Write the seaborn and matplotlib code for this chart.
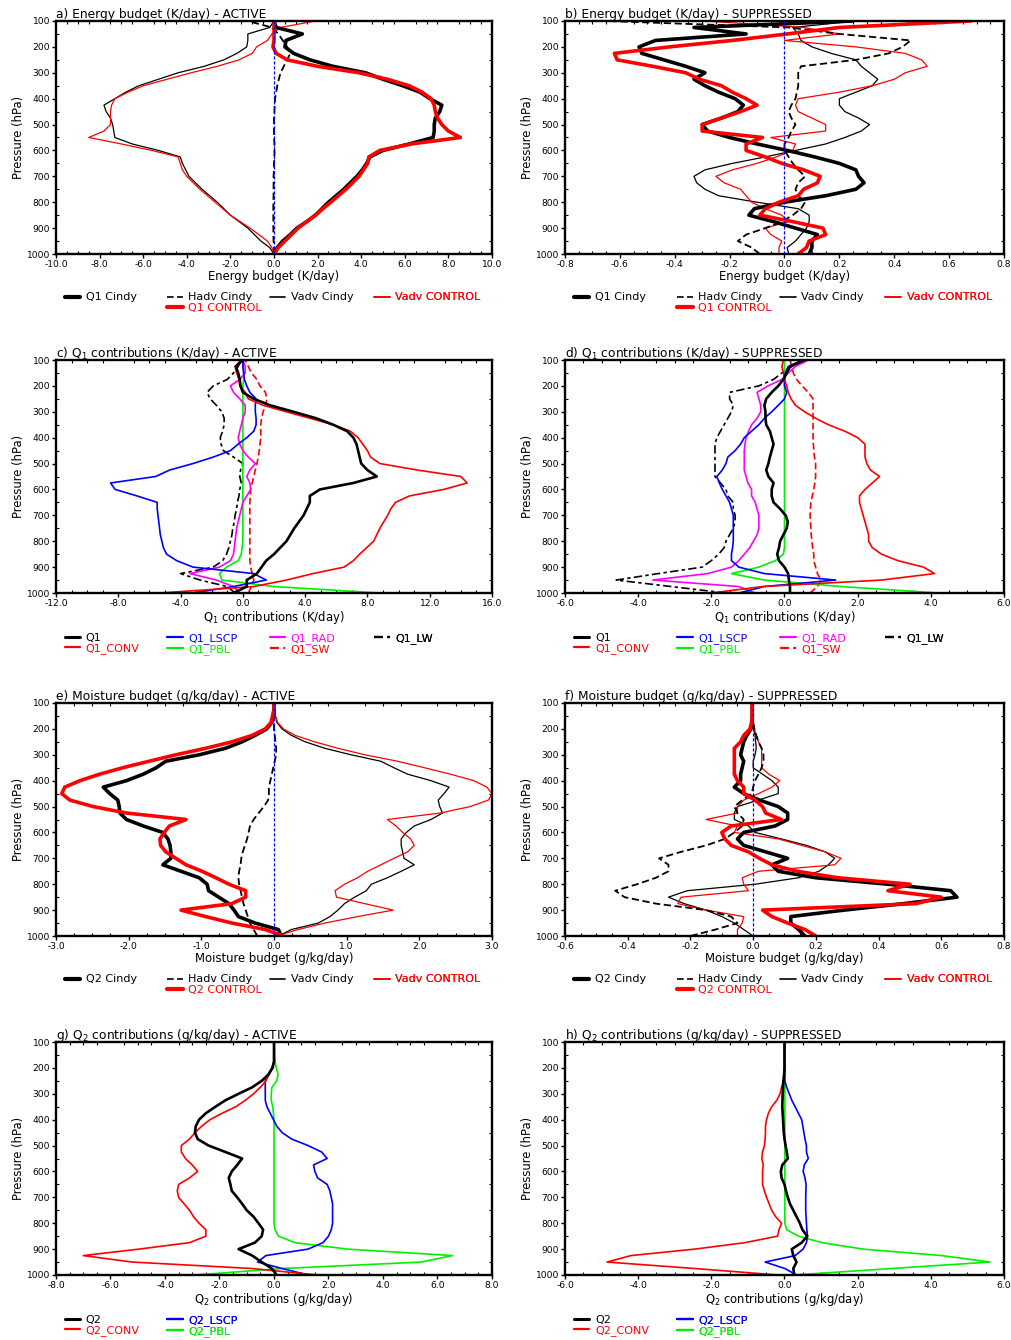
import numpy as np
import matplotlib
matplotlib.use("Agg")
import matplotlib.pyplot as plt
import seaborn as sns
from matplotlib.lines import Line2D
from matplotlib.ticker import MultipleLocator, AutoMinorLocator, FormatStrFormatter

sns.set_theme(style="ticks")
plt.rcParams["font.family"] = ["DejaVu Sans"]
plt.rcParams.update({"text.color": "black", "axes.labelcolor": "black",
                     "xtick.color": "black", "ytick.color": "black"})

# Pressure levels (hPa), surface to top
PRES = np.arange(1000, 99, -25)

# ---- a) Energy budget, ACTIVE (K/day)
q1_cindy_a = [0.0, 0.15, 0.4, 0.75, 1.05, 1.5, 1.9, 2.2, 2.5, 2.85,
              3.2, 3.5, 3.8, 4.05, 4.25, 4.4, 5.0, 6.2, 7.3, 7.35,
              7.35, 7.4, 7.6, 7.7, 7.15, 6.7, 5.9, 5.0, 4.2, 2.7,
              1.65, 0.9, 0.5, 0.55, 1.3, 0.1, 0.0]
q1_control_a = [0.0, 0.2, 0.5, 0.8, 1.1, 1.5, 1.9, 2.25, 2.6, 2.95,
                3.3, 3.6, 3.9, 4.1, 4.3, 4.35, 4.85, 6.3, 8.55, 8.0,
                7.7, 7.5, 7.4, 7.35, 7.2, 6.8, 6.2, 5.2, 3.9, 2.0,
                0.6, 0.1, -0.05, 0.0, 0.0, 0.0, 0.0]
vadv_cindy_a = [0.0, -0.2, -0.6, -0.9, -1.2, -1.6, -2.0, -2.3, -2.6, -2.95,
                -3.3, -3.6, -3.9, -4.05, -4.2, -4.3, -5.3, -6.5, -7.3, -7.35,
                -7.4, -7.5, -7.7, -7.8, -7.3, -6.8, -6.2, -5.3, -4.4, -3.2,
                -2.3, -1.7, -1.25, -1.2, -1.2, -0.2, 0.0]
vadv_control_a = [0.0, -0.1, -0.3, -0.7, -1.1, -1.55, -2.0, -2.35, -2.7, -3.05,
                  -3.4, -3.7, -4.0, -4.2, -4.3, -4.4, -5.6, -7.0, -8.5, -7.8,
                  -7.5, -7.5, -7.5, -7.45, -7.3, -6.7, -6.0, -4.9, -3.8, -2.6,
                  -1.6, -1.0, -0.8, -0.3, -0.1, 0.3, 1.9]
hadv_cindy_a = [0.0, 0.0, -0.02, -0.03, -0.03, -0.03, -0.03, -0.03, -0.03, -0.02,
                -0.02, -0.02, -0.02, 0.0, 0.0, 0.02, 0.02, 0.02, 0.0, 0.0,
                0.0, 0.0, 0.02, 0.03, 0.05, 0.1, 0.15, 0.22, 0.3, 0.45,
                0.6, 0.75, 0.6, 0.4, 0.2, -0.1, -1.2]

# ---- b) Energy budget, SUPPRESSED (K/day)
q1_cindy_b = [0.09, 0.1, 0.1, 0.12, 0.04, -0.04, -0.13, -0.11, 0.0, 0.15,
              0.26, 0.29, 0.27, 0.26, 0.2, 0.11, 0.01, -0.1, -0.2, -0.28,
              -0.3, -0.23, -0.17, -0.15, -0.18, -0.24, -0.29, -0.33, -0.29, -0.36,
              -0.44, -0.52, -0.53, -0.47, -0.14, -0.33, 0.25]
q1_control_b = [0.05, 0.08, 0.09, 0.15, 0.14, 0.03, -0.09, -0.07, -0.02, 0.05,
                0.07, 0.12, 0.13, 0.07, -0.01, -0.07, -0.14, -0.14, -0.08, -0.3,
                -0.3, -0.23, -0.16, -0.1, -0.14, -0.19, -0.23, -0.31, -0.36, -0.48,
                -0.61, -0.62, -0.42, -0.19, 0.01, 0.2, 0.68]
vadv_cindy_b = [0.015, 0.01, 0.04, 0.06, 0.08, 0.09, 0.09, 0.05, -0.1, -0.24,
                -0.29, -0.32, -0.33, -0.29, -0.19, -0.07, 0.04, 0.15, 0.22, 0.28,
                0.31, 0.27, 0.22, 0.2, 0.2, 0.26, 0.32, 0.34, 0.31, 0.28,
                0.26, 0.17, 0.1, 0.06, 0.05, 0.03, 0.26]
vadv_control_b = [-0.02, -0.02, -0.01, -0.05, -0.07, 0.015, -0.01, -0.07, -0.12, -0.14,
                  -0.16, -0.22, -0.25, -0.19, -0.1, -0.03, 0.03, 0.04, -0.05, 0.15,
                  0.15, 0.1, 0.05, 0.04, 0.05, 0.2, 0.32, 0.4, 0.44, 0.52,
                  0.5, 0.44, 0.26, 0.0, 0.2, 0.07, -0.29]
hadv_cindy_b = [-0.09, -0.12, -0.17, -0.14, -0.07, -0.01, 0.03, 0.06, 0.075, 0.05,
                0.04, 0.05, 0.075, 0.05, 0.03, 0.015, 0.0, 0.0, 0.015, 0.025,
                0.04, 0.025, 0.015, 0.025, 0.04, 0.045, 0.05, 0.05, 0.05, 0.06,
                0.26, 0.38, 0.43, 0.46, 0.2, 0.015, -0.65]

# ---- c) Q1 contributions, ACTIVE (K/day)
q1_c = [-0.6, 0.25, 0.25, 0.9, 1.2, 1.5, 2.0, 2.4, 2.8, 3.05,
        3.3, 3.6, 3.9, 4.1, 4.3, 4.3, 4.95, 7.1, 8.6, 8.0,
        7.6, 7.5, 7.4, 7.3, 7.1, 6.7, 5.8, 4.7, 3.25, 1.75,
        0.7, 0.0, -0.15, -0.2, -0.3, -0.45, 0.0]
q1_conv_c = [-5.3, 0.7, 2.8, 4.5, 6.5, 7.1, 7.5, 7.95, 8.4, 8.6,
             8.8, 9.05, 9.3, 9.5, 9.8, 10.7, 12.9, 14.4, 14.0, 11.2,
             8.8, 8.2, 8.0, 7.7, 7.4, 6.9, 5.8, 4.3, 2.8, 1.3,
             0.35, 0.15, -0.2, -0.25, -0.4, -0.5, -0.1]
q1_lscp_c = [-3.2, -0.6, 1.5, 0.7, -3.2, -4.25, -4.9, -5.1, -5.2, -5.3,
             -5.35, -5.4, -5.45, -5.5, -5.5, -6.8, -8.2, -8.5, -5.6, -4.7,
             -3.2, -1.9, -0.8, -0.3, 0.25, 0.7, 0.85, 0.85, 0.8, 0.8,
             0.85, 0.45, 0.25, 0.1, 0.05, 0.0, 0.0]
q1_rad_c = [-0.2, -0.6, -1.7, -3.4, -1.5, -0.8, -0.6, -0.55, -0.5, -0.45,
            -0.4, -0.3, -0.2, -0.1, 0.0, 0.25, 0.5, 0.45, 0.25, 0.45,
            0.8, 0.35, 0.0, -0.2, -0.3, -0.2, -0.1, 0.0, 0.15, 0.15,
            -0.2, -0.6, -0.8, -0.2, 0.15, 0.15, 0.0]
q1_pbl_c = [8.8, 2.0, -1.35, -1.5, -1.05, -0.3, -0.1, -0.05, 0.0, 0.0,
            0.0, 0.0, 0.0, 0.0, 0.0, 0.0, 0.0, 0.0, 0.0, 0.0,
            0.0, 0.0, 0.0, 0.0, 0.0, 0.0, 0.0, 0.0, 0.0, 0.0,
            0.0, 0.0, 0.0, 0.05, 0.05, 0.05, 0.05]
q1_sw_c = [0.35, 0.55, 0.7, 0.6, 0.5, 0.45, 0.45, 0.45, 0.45, 0.45,
           0.45, 0.45, 0.45, 0.45, 0.45, 0.48, 0.5, 0.6, 0.7, 0.8,
           0.9, 1.0, 1.05, 1.1, 1.15, 1.15, 1.15, 1.2, 1.3, 1.45,
           1.55, 1.45, 1.1, 0.9, 0.55, 0.35, 0.15]
q1_lw_c = [-0.5, -1.0, -2.75, -4.0, -1.9, -1.3, -1.05, -0.9, -0.8, -0.7,
           -0.65, -0.55, -0.5, -0.4, -0.35, -0.25, -0.2, -0.1, -0.2, -0.15,
           0.0, -0.6, -1.25, -1.4, -1.45, -1.3, -1.2, -1.2, -1.35, -1.7,
           -2.1, -2.3, -1.9, -1.0, -0.6, -0.3, -0.1]

# ---- d) Q1 contributions, SUPPRESSED (K/day)
q1_d = [0.15, 0.15, 0.12, 0.1, 0.0, -0.15, -0.2, -0.15, -0.12, -0.03,
        0.06, 0.09, 0.03, -0.12, -0.3, -0.35, -0.35, -0.3, -0.44, -0.5,
        -0.44, -0.4, -0.35, -0.3, -0.35, -0.4, -0.5, -0.52, -0.52, -0.55,
        -0.5, -0.35, -0.17, -0.03, 0.06, 0.15, 0.55]
q1_conv_d = [-2.0, -0.6, 2.65, 4.1, 3.8, 3.1, 2.65, 2.4, 2.3, 2.3,
             2.25, 2.2, 2.15, 2.1, 2.05, 2.05, 2.2, 2.4, 2.6, 2.35,
             2.25, 2.2, 2.2, 2.2, 2.0, 1.65, 1.2, 0.85, 0.55, 0.3,
             0.18, 0.1, 0.06, 0.0, -0.03, -0.07, -0.03]
q1_lscp_d = [-1.25, -0.55, 1.4, -0.55, -1.25, -1.45, -1.45, -1.42, -1.4, -1.4,
             -1.4, -1.4, -1.4, -1.45, -1.5, -1.6, -1.7, -1.78, -1.85, -1.7,
             -1.6, -1.55, -1.35, -1.2, -1.1, -0.9, -0.7, -0.55, -0.35, -0.17,
             0.0, 0.06, 0.0, 0.0, 0.02, 0.1, 0.5]
q1_rad_d = [-0.8, -1.25, -3.6, -2.1, -1.45, -1.25, -1.1, -0.95, -0.85, -0.75,
            -0.7, -0.7, -0.7, -0.75, -0.8, -0.9, -0.9, -1.0, -1.05, -1.1,
            -1.1, -1.1, -1.1, -1.08, -1.05, -0.98, -0.9, -0.75, -0.65, -0.65,
            -0.7, -0.75, -0.45, -0.07, 0.1, 0.3, 0.65]
q1_pbl_d = [4.2, 1.55, -0.55, -1.45, -0.7, -0.25, -0.03, 0.0, 0.0, 0.0,
            0.0, 0.0, 0.0, 0.0, 0.0, 0.0, 0.0, 0.0, 0.0, 0.0,
            0.0, 0.0, 0.0, 0.0, 0.0, 0.0, 0.0, 0.0, 0.0, 0.0,
            0.0, 0.0, 0.0, 0.0, 0.0, 0.0, 0.0]
q1_sw_d = [0.7, 0.9, 1.0, 0.9, 0.85, 0.8, 0.8, 0.77, 0.75, 0.73,
           0.72, 0.71, 0.7, 0.71, 0.72, 0.76, 0.8, 0.83, 0.85, 0.85,
           0.85, 0.82, 0.8, 0.79, 0.78, 0.78, 0.78, 0.78, 0.78, 0.78,
           0.78, 0.65, 0.48, 0.33, 0.24, 0.2, 0.15]
q1_lw_d = [-1.6, -3.1, -4.6, -3.45, -2.25, -2.0, -1.8, -1.65, -1.6, -1.5,
           -1.4, -1.35, -1.35, -1.4, -1.4, -1.55, -1.6, -1.75, -1.9, -1.9,
           -1.9, -1.9, -1.9, -1.9, -1.85, -1.75, -1.65, -1.55, -1.45, -1.4,
           -1.5, -1.5, -0.7, -0.3, -0.07, 0.2, 0.55]

# ---- e) Moisture budget, ACTIVE (g/kg/day)
q2_cindy_e = [0.1, 0.06, -0.26, -0.49, -0.55, -0.62, -0.76, -0.9, -0.92, -1.03,
              -1.28, -1.53, -1.42, -1.42, -1.43, -1.46, -1.53, -1.8, -2.03, -2.12,
              -2.13, -2.15, -2.26, -2.35, -2.03, -1.8, -1.62, -1.49, -1.03, -0.67,
              -0.44, -0.26, -0.1, -0.03, -0.01, 0.0, 0.0]
q2_control_e = [0.13, -0.12, -0.58, -0.94, -1.28, -0.58, -0.39, -0.39, -0.62, -0.8,
                -0.99, -1.21, -1.35, -1.49, -1.56, -1.57, -1.51, -1.44, -1.21, -2.03,
                -2.49, -2.81, -2.92, -2.88, -2.67, -2.4, -2.08, -1.72, -1.35, -0.94,
                -0.58, -0.3, -0.12, -0.04, -0.02, 0.0, 0.0]
vadv_cindy_e = [0.06, 0.24, 0.61, 0.77, 0.88, 0.97, 1.11, 1.27, 1.34, 1.56,
                1.75, 1.93, 1.79, 1.77, 1.75, 1.75, 1.82, 1.93, 2.16, 2.32,
                2.28, 2.26, 2.34, 2.41, 2.16, 1.84, 1.65, 1.47, 1.06, 0.7,
                0.43, 0.24, 0.11, 0.04, 0.02, 0.01, 0.0]
vadv_control_e = [0.04, 0.33, 0.7, 1.15, 1.64, 1.25, 0.86, 0.84, 0.97, 1.15,
                  1.29, 1.47, 1.65, 1.84, 1.93, 1.88, 1.77, 1.68, 1.56, 2.29,
                  2.7, 2.95, 3.0, 2.93, 2.75, 2.43, 2.07, 1.7, 1.25, 0.88,
                  0.56, 0.29, 0.13, 0.05, 0.02, 0.01, 0.0]
hadv_cindy_e = [-0.23, -0.28, -0.33, -0.36, -0.39, -0.42, -0.44, -0.46, -0.48, -0.49,
                -0.48, -0.46, -0.45, -0.43, -0.4, -0.37, -0.35, -0.33, -0.28, -0.21,
                -0.14, -0.08, -0.07, -0.07, -0.05, -0.03, -0.01, 0.01, 0.03, 0.03,
                0.02, 0.01, 0.0, 0.0, 0.0, 0.0, 0.0]

# ---- f) Moisture budget, SUPPRESSED (g/kg/day)
q2_cindy_f = [0.165, 0.145, 0.12, 0.12, 0.29, 0.48, 0.65, 0.63, 0.43, 0.2,
              0.08, 0.06, 0.11, 0.04, -0.03, -0.05, -0.03, 0.07, 0.11, 0.11,
              0.08, 0.02, -0.03, -0.06, -0.04, -0.04, -0.035, -0.03, -0.04, -0.035,
              -0.03, -0.02, -0.007, -0.003, -0.003, -0.003, -0.003]
q2_control_f = [0.2, 0.165, 0.11, 0.06, 0.03, 0.52, 0.6, 0.43, 0.5, 0.27,
                0.14, 0.06, 0.02, -0.015, -0.07, -0.09, -0.1, -0.07, 0.09, 0.04,
                0.03, 0.006, -0.03, -0.03, -0.05, -0.06, -0.06, -0.06, -0.06, -0.06,
                -0.04, -0.03, -0.01, -0.005, -0.003, -0.003, -0.003]
vadv_cindy_f = [0.0, -0.03, -0.06, -0.1, -0.15, -0.22, -0.27, -0.21, 0.006, 0.145,
                0.21, 0.24, 0.26, 0.23, 0.17, 0.09, 0.006, -0.015, -0.06, -0.06,
                -0.05, 0.017, 0.08, 0.08, 0.06, 0.03, 0.0, 0.0, 0.006, 0.01,
                0.008, 0.006, 0.002, 0.0, 0.0, 0.0, 0.0]
vadv_control_f = [-0.05, -0.05, -0.035, -0.03, -0.15, -0.24, -0.23, -0.015, -0.03, -0.035,
                  0.017, 0.26, 0.28, 0.23, 0.155, 0.08, -0.06, -0.05, -0.15, -0.05,
                  -0.05, -0.03, 0.017, 0.06, 0.085, 0.05, 0.027, 0.027, 0.027, 0.027,
                  0.017, 0.01, 0.004, 0.0, 0.0, 0.0, 0.0]
hadv_cindy_f = [-0.2, -0.12, -0.05, -0.07, -0.15, -0.31, -0.41, -0.44, -0.37, -0.31,
                -0.27, -0.27, -0.3, -0.23, -0.15, -0.09, -0.06, -0.035, -0.03, -0.05,
                -0.06, -0.035, -0.005, 0.0, 0.006, 0.017, 0.027, 0.033, 0.033, 0.027,
                0.017, 0.01, 0.004, 0.0, 0.0, 0.0, 0.0]

# ---- g) Q2 contributions, ACTIVE (g/kg/day)
q2_g = [0.1, -0.08, -0.45, -0.8, -1.3, -0.7, -0.45, -0.4, -0.57, -0.75,
        -1.0, -1.17, -1.35, -1.55, -1.6, -1.66, -1.55, -1.35, -1.17, -1.78,
        -2.4, -2.8, -2.9, -2.87, -2.75, -2.5, -2.15, -1.78, -1.3, -0.8,
        -0.45, -0.2, -0.05, 0.0, 0.0, 0.0, 0.0]
q2_conv_g = [1.6, -0.8, -5.2, -7.0, -4.95, -3.1, -2.5, -2.5, -2.75, -2.95,
             -3.1, -3.3, -3.5, -3.55, -3.5, -3.1, -2.8, -3.0, -3.25, -3.4,
             -3.4, -3.1, -2.9, -2.65, -2.35, -1.9, -1.4, -1.05, -0.75, -0.5,
             -0.3, -0.18, -0.08, 0.0, 0.0, 0.0, 0.0]
q2_lscp_g = [1.25, 0.3, -0.6, -0.3, 1.25, 1.8, 2.0, 2.1, 2.15, 2.15,
             2.15, 2.15, 2.1, 2.05, 1.95, 1.6, 1.5, 1.45, 1.95, 1.75,
             1.25, 0.65, 0.3, 0.1, -0.02, -0.14, -0.26, -0.32, -0.32, -0.32,
             -0.32, -0.22, -0.08, 0.0, 0.0, 0.0, 0.0]
q2_pbl_g = [-2.9, 0.3, 5.4, 6.55, 2.7, 0.77, 0.16, 0.04, 0.0, 0.0,
            0.0, 0.0, 0.0, 0.0, 0.0, 0.0, 0.0, 0.0, 0.0, 0.0,
            0.0, 0.0, 0.0, 0.0, 0.0, -0.02, -0.05, -0.1, -0.1, -0.08,
            0.1, 0.15, 0.08, 0.04, 0.02, 0.02, 0.02]

# ---- h) Q2 contributions, SUPPRESSED (g/kg/day)
q2_h = [0.27, 0.24, 0.33, 0.24, 0.2, 0.47, 0.62, 0.49, 0.42, 0.33,
        0.24, 0.15, 0.09, 0.04, 0.0, -0.08, -0.1, -0.06, 0.09, 0.06,
        0.03, 0.0, -0.02, -0.03, -0.04, -0.05, -0.06, -0.055, -0.05, -0.04,
        -0.03, -0.01, 0.0, 0.0, 0.0, 0.0, 0.0]
q2_conv_h = [-0.17, -2.45, -4.85, -4.2, -2.45, -1.08, -0.19, -0.15, -0.08, -0.24,
             -0.35, -0.42, -0.49, -0.55, -0.6, -0.6, -0.6, -0.58, -0.62, -0.6,
             -0.55, -0.53, -0.52, -0.52, -0.49, -0.44, -0.35, -0.21, -0.12, -0.08,
             -0.03, -0.01, 0.0, 0.0, 0.0, 0.0, 0.0]
q2_lscp_h = [0.33, 0.01, -0.53, 0.29, 0.51, 0.6, 0.63, 0.61, 0.6, 0.59,
             0.58, 0.58, 0.58, 0.585, 0.59, 0.56, 0.51, 0.54, 0.65, 0.6,
             0.6, 0.56, 0.53, 0.5, 0.47, 0.38, 0.29, 0.2, 0.13, 0.06,
             0.01, 0.0, 0.0, 0.0, 0.0, 0.0, 0.0]
q2_pbl_h = [0.25, 2.93, 5.62, 4.3, 2.15, 1.02, 0.38, 0.06, 0.01, 0.01,
            0.01, 0.01, 0.01, 0.01, 0.01, 0.01, 0.01, 0.01, 0.01, 0.01,
            0.01, 0.01, 0.01, 0.01, 0.01, 0.01, 0.01, 0.01, 0.01, 0.01,
            0.01, 0.02, 0.02, 0.01, 0.01, 0.01, 0.01]

RED, BLUE, GREEN, MAG, BLK = "#ff0000", "#0000ff", "#00f000", "#ff00ff", "black"
DASH = (0, (4, 2))
DASHDOT = (0, (5, 2, 2, 2))
THICK, THIN, MID, MIDBOLD = 2.6, 0.9, 1.2, 1.9

fig = plt.figure(figsize=(10.12, 13.4), dpi=100)

LEFT_X, RIGHT_X = 56 / 1012, 565 / 1012
LEFT_W, RIGHT_W = 436 / 1012, 439 / 1012
ROW_BOTTOM = [1 - 254 / 1340, 1 - 593 / 1340, 1 - 936 / 1340, 1 - 1275 / 1340]
AX_H = 233 / 1340


def make_axes(row, col):
    if col == 0:
        return fig.add_axes([LEFT_X, ROW_BOTTOM[row], LEFT_W, AX_H])
    return fig.add_axes([RIGHT_X, ROW_BOTTOM[row], RIGHT_W, AX_H])


def profile(ax, values, color, lw, ls="-"):
    sns.lineplot(x=values, y=PRES, ax=ax, color=color, linewidth=lw,
                 linestyle=ls, orient="y", sort=False, estimator=None)


def style(ax, xlim, xmajor, title, xlabel):
    ax.set_xlim(*xlim)
    ax.set_ylim(1000, 100)
    ax.xaxis.set_major_locator(MultipleLocator(xmajor))
    ax.xaxis.set_minor_locator(AutoMinorLocator(4))
    ax.xaxis.set_major_formatter(FormatStrFormatter("%.1f"))
    ax.yaxis.set_major_locator(MultipleLocator(100))
    ax.yaxis.set_minor_locator(MultipleLocator(50))
    ax.tick_params(which="major", direction="out", length=3, width=1,
                   labelsize=6.6, pad=1.2, bottom=True, left=True,
                   top=False, right=False, colors="black")
    ax.tick_params(which="minor", direction="in", length=2.5, width=0.8,
                   bottom=True, left=True, top=True, right=True)
    for s in ax.spines.values():
        s.set_linewidth(1.7)
        s.set_color("black")
    ax.set_title(title, loc="left", fontsize=8.8, pad=2, color="black")
    ax.set_xlabel(xlabel, fontsize=8.4, labelpad=0.5)
    ax.set_ylabel("Pressure (hPa)", fontsize=8.4, labelpad=1)


def key(ax, columns, y=-0.165):
    xs = [0.02, 0.255, 0.49, 0.73]
    for x, col in zip(xs, columns):
        handles = [Line2D([], [], color=c, lw=w, ls=s, label=l) for (l, c, w, s) in col]
        leg = ax.legend(handles=handles, loc="upper left", bbox_to_anchor=(x, y),
                        frameon=False, fontsize=8, handlelength=1.4,
                        handletextpad=0.5, labelspacing=0.02, borderpad=0,
                        borderaxespad=0, labelcolor="linecolor")
        ax.add_artist(leg)


def budget_panel(ax, q_c, q_ctl, vadv_c, vadv_ctl, hadv_c, qname, xlim, xmajor, title, xlabel):
    profile(ax, vadv_c, BLK, THIN)
    profile(ax, vadv_ctl, RED, THIN)
    profile(ax, hadv_c, BLK, 1.3, DASH)
    profile(ax, q_c, BLK, THICK)
    profile(ax, q_ctl, RED, THICK)
    ax.axvline(0, color=BLUE, lw=0.9, ls=(0, (2.5, 1.5)), zorder=5)
    style(ax, xlim, xmajor, title, xlabel)
    key(ax, [[(f"{qname} Cindy", BLK, 3, "-")],
             [("Hadv Cindy", BLK, 1.2, DASH), (f"{qname} CONTROL", RED, 3, "-")],
             [("Vadv Cindy", BLK, 1.2, "-")],
             [("Vadv CONTROL", RED, 1.2, "-")]])


# Row 1: energy budgets
ax = make_axes(0, 0)
budget_panel(ax, q1_cindy_a, q1_control_a, vadv_cindy_a, vadv_control_a, hadv_cindy_a,
             "Q1", (-10, 10), 2, "a) Energy budget (K/day) - ACTIVE", "Energy budget (K/day)")
ax = make_axes(0, 1)
budget_panel(ax, q1_cindy_b, q1_control_b, vadv_cindy_b, vadv_control_b, hadv_cindy_b,
             "Q1", (-0.8, 0.8), 0.2, "b) Energy budget (K/day) - SUPPRESSED", "Energy budget (K/day)")


def q1_panel(ax, q1, conv, lscp, rad, pbl, sw, lw, xlim, xmajor, title):
    profile(ax, lw, BLK, MID, DASHDOT)
    profile(ax, sw, RED, MID, DASH)
    profile(ax, pbl, GREEN, MID)
    profile(ax, rad, MAG, MID)
    profile(ax, lscp, BLUE, MID)
    profile(ax, conv, RED, MID)
    profile(ax, q1, BLK, MIDBOLD)
    style(ax, xlim, xmajor, title, r"Q$_1$ contributions (K/day)")
    key(ax, [[("Q1", BLK, 2.2, "-"), ("Q1_CONV", RED, 1.6, "-")],
             [("Q1_LSCP", BLUE, 1.6, "-"), ("Q1_PBL", GREEN, 1.6, "-")],
             [("Q1_RAD", MAG, 1.6, "-"), ("Q1_SW", RED, 1.6, DASH)],
             [("Q1_LW", BLK, 1.6, DASH)]], y=-0.17)


ax = make_axes(1, 0)
q1_panel(ax, q1_c, q1_conv_c, q1_lscp_c, q1_rad_c, q1_pbl_c, q1_sw_c, q1_lw_c,
         (-12, 16), 4, r"c) Q$_1$ contributions (K/day) - ACTIVE")
ax = make_axes(1, 1)
q1_panel(ax, q1_d, q1_conv_d, q1_lscp_d, q1_rad_d, q1_pbl_d, q1_sw_d, q1_lw_d,
         (-6, 6), 2, r"d) Q$_1$ contributions (K/day) - SUPPRESSED")

# Row 3: moisture budgets
ax = make_axes(2, 0)
budget_panel(ax, q2_cindy_e, q2_control_e, vadv_cindy_e, vadv_control_e, hadv_cindy_e,
             "Q2", (-3, 3), 1, "e) Moisture budget (g/kg/day) - ACTIVE", "Moisture budget (g/kg/day)")
ax = make_axes(2, 1)
budget_panel(ax, q2_cindy_f, q2_control_f, vadv_cindy_f, vadv_control_f, hadv_cindy_f,
             "Q2", (-0.6, 0.8), 0.2, "f) Moisture budget (g/kg/day) - SUPPRESSED", "Moisture budget (g/kg/day)")


def q2_panel(ax, q2, conv, lscp, pbl, xlim, xmajor, title):
    profile(ax, pbl, GREEN, MID)
    profile(ax, lscp, BLUE, MID)
    profile(ax, conv, RED, MID)
    profile(ax, q2, BLK, MIDBOLD)
    style(ax, xlim, xmajor, title, r"Q$_2$ contributions (g/kg/day)")
    key(ax, [[("Q2", BLK, 2.2, "-"), ("Q2_CONV", RED, 1.6, "-")],
             [("Q2_LSCP", BLUE, 1.6, "-"), ("Q2_PBL", GREEN, 1.6, "-")]], y=-0.17)


ax = make_axes(3, 0)
q2_panel(ax, q2_g, q2_conv_g, q2_lscp_g, q2_pbl_g, (-8, 8), 2,
         r"g) Q$_2$ contributions (g/kg/day) - ACTIVE")
ax = make_axes(3, 1)
q2_panel(ax, q2_h, q2_conv_h, q2_lscp_h, q2_pbl_h, (-6, 6), 2,
         r"h) Q$_2$ contributions (g/kg/day) - SUPPRESSED")

fig.savefig("out.png", dpi=100, facecolor="white")
